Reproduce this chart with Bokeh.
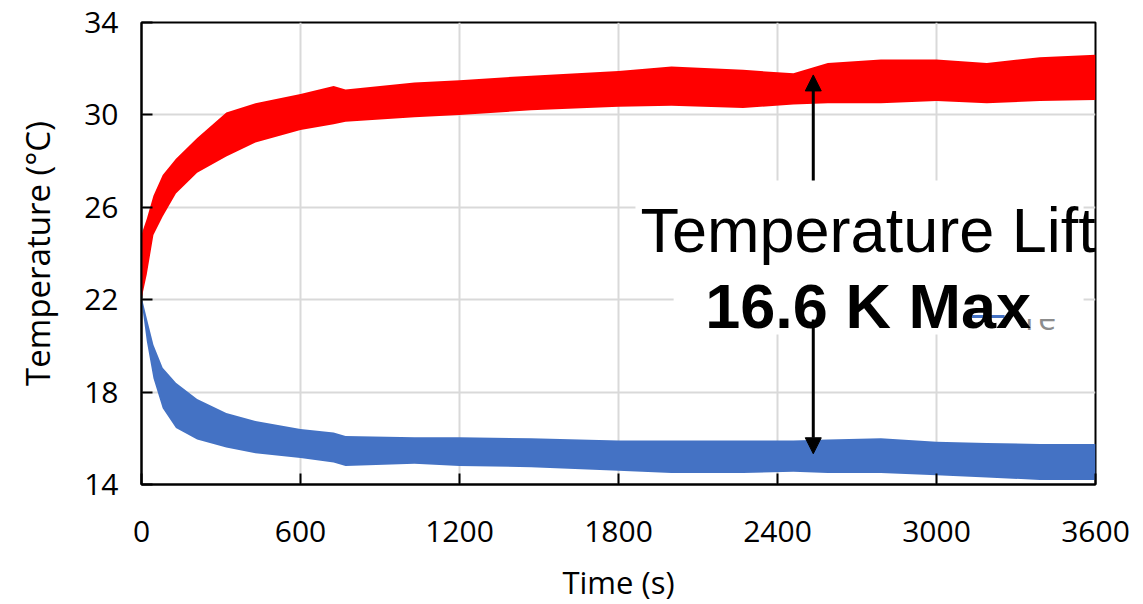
from bokeh.plotting import figure
from bokeh.models import Range1d, FixedTicker, BoxAnnotation, Label, Arrow, NormalHead
from bokeh.embed import file_html
from bokeh.resources import INLINE

# ---- data ----
time_s = [0, 5, 20, 45, 80, 130, 210, 320, 430, 600, 725, 770, 1030, 1200,
          1470, 1800, 2000, 2270, 2460, 2590, 2790, 3000, 3190, 3390, 3600]
hot_low = [22.0, 22.3, 23.1, 24.8, 25.6, 26.6, 27.5, 28.2, 28.8, 29.35, 29.6, 29.7, 29.9, 30.0,
           30.2, 30.35, 30.4, 30.3, 30.45, 30.5, 30.5, 30.6, 30.5, 30.6, 30.65]
hot_high = [24.8, 25.0, 25.5, 26.5, 27.4, 28.1, 29.0, 30.1, 30.5, 30.9, 31.25, 31.1, 31.4, 31.5,
            31.7, 31.9, 32.1, 31.95, 31.8, 32.25, 32.4, 32.4, 32.25, 32.5, 32.6]
cold_high = [22.0, 21.9, 21.2, 20.05, 19.05, 18.4, 17.7, 17.1, 16.75, 16.4, 16.25, 16.1, 16.05, 16.05,
             16.0, 15.9, 15.9, 15.9, 15.9, 15.95, 16.0, 15.85, 15.8, 15.75, 15.75]
cold_low = [21.8, 21.5, 20.2, 18.6, 17.3, 16.45, 15.95, 15.6, 15.35, 15.15, 14.95, 14.8, 14.9, 14.8,
            14.75, 14.6, 14.5, 14.5, 14.55, 14.5, 14.5, 14.4, 14.3, 14.2, 14.2]
x_ticks = [0, 600, 1200, 1800, 2400, 3000, 3600]
y_ticks = [14, 18, 22, 26, 30, 34]

RED = "#FF0000"
BLUE = "#4472C4"
FONT = "Open Sans"

p = figure(width=1143, height=604, output_backend="svg", toolbar_location=None,
           x_range=Range1d(0, 3600), y_range=Range1d(14, 34),
           min_border_left=141, min_border_right=48, min_border_top=22, min_border_bottom=120)
p.frame_width = 954
p.frame_height = 462

p.outline_line_color = "black"
p.outline_line_width = 2
p.background_fill_color = "white"
p.border_fill_color = "white"

for g in (p.xgrid, p.ygrid):
    g.grid_line_color = "#D9D9D9"
    g.grid_line_width = 2
p.xgrid.ticker = FixedTicker(ticks=x_ticks)
p.ygrid.ticker = FixedTicker(ticks=y_ticks)

for ax in (p.xaxis[0], p.yaxis[0]):
    ax.axis_line_color = "black"
    ax.axis_line_width = 2
    ax.major_tick_line_color = "black"
    ax.major_tick_line_width = 2
    ax.major_tick_in = 11
    ax.major_tick_out = 0
    ax.minor_tick_line_color = None
    ax.major_label_text_font = FONT
    ax.major_label_text_font_size = "30px"
    ax.major_label_text_color = "black"
    ax.axis_label_text_font = FONT
    ax.axis_label_text_font_style = "normal"
    ax.axis_label_text_color = "black"

p.xaxis[0].axis_label_text_font_size = "31px"
p.yaxis[0].axis_label_text_font_size = "33px"
p.xaxis[0].ticker = FixedTicker(ticks=x_ticks)
p.yaxis[0].ticker = FixedTicker(ticks=y_ticks)
p.xaxis[0].axis_label = "Time (s)"
p.yaxis[0].axis_label = "Temperature (°C)"
p.xaxis[0].major_label_standoff = 36
p.yaxis[0].major_label_standoff = 23
p.xaxis[0].axis_label_standoff = 16
p.yaxis[0].axis_label_standoff = 21

# ---- data bands ----
p.varea(x=time_s, y1=hot_low, y2=hot_high, fill_color=RED)
p.varea(x=time_s, y1=cold_low, y2=cold_high, fill_color=BLUE)

# ---- annotation: white text boxes ----
p.add_layout(BoxAnnotation(left=1864, right=3555, top=27.16, bottom=23.55,
                           fill_color="white", fill_alpha=1, line_color=None))
p.add_layout(BoxAnnotation(left=2008, right=3555, top=23.55, bottom=20.49,
                           fill_color="white", fill_alpha=1, line_color=None))

# partially hidden legend remnant
p.add_layout(Arrow(start=None, end=None, x_start=3132, y_start=21.27, x_end=3257, y_end=21.27,
                   line_color=BLUE, line_width=3))
p.add_layout(Label(x=3335, y=21.25, text="re", text_font=FONT, text_font_size="32px",
                   text_color="#8C8C8C", text_align="left", text_baseline="alphabetic"))
p.add_layout(BoxAnnotation(left=3300, right=3520, top=22.35, bottom=21.16,
                           fill_color="white", fill_alpha=1, line_color=None))

p.add_layout(Label(x=2742, y=25.02, text="Temperature Lift", text_font="Liberation Sans",
                   text_font_size="63px", text_color="black", text_align="center",
                   text_baseline="alphabetic"))
p.add_layout(Label(x=2742, y=21.74, text="16.6 K Max", text_font="Liberation Sans",
                   text_font_size="63px", text_font_style="bold", text_color="black",
                   text_align="center", text_baseline="alphabetic"))

p.add_layout(Arrow(end=NormalHead(size=16, fill_color="black", line_color="black"),
                   x_start=2535, y_start=27.16, x_end=2535, y_end=31.73,
                   line_color="black", line_width=3))
p.add_layout(Arrow(end=NormalHead(size=16, fill_color="black", line_color="black"),
                   x_start=2535, y_start=21.14, x_end=2535, y_end=15.33,
                   line_color="black", line_width=3))

open("out.html", "w").write(file_html(p, INLINE))
